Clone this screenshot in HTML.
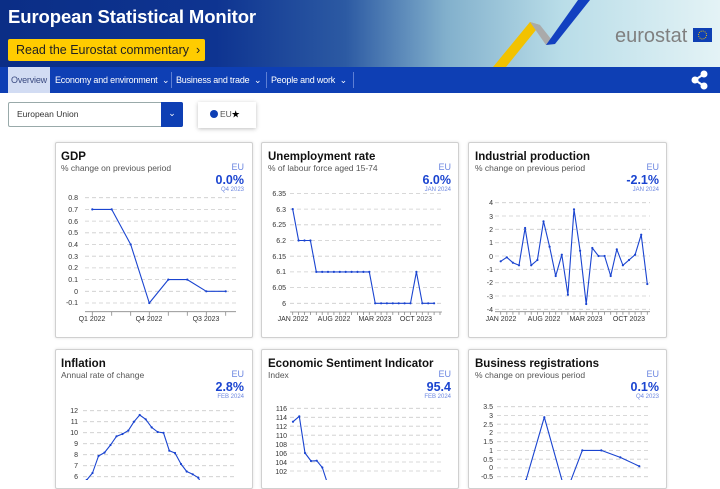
<!DOCTYPE html>
<html><head><meta charset="utf-8"><style>
body{margin:0;width:720px;height:480px;overflow:hidden;background:#fff;font-family:"Liberation Sans",Arial,sans-serif;position:relative}
.hdr{position:absolute;left:0;top:0;width:720px;height:67px;background:linear-gradient(90deg,#0b2e86 0%,#0e3491 30%,#2c5aa3 48%,#82b0cc 62%,#b9dde8 78%,#e4f3f6 100%)}
.title{position:absolute;left:8px;top:6px;color:#fff;font-size:18.5px;font-weight:bold;letter-spacing:-0.1px}
.btn{position:absolute;left:8px;top:39px;width:197px;height:22px;background:#ffcc00;border-radius:2px;font-size:12.5px;line-height:22px;color:#222;padding-left:8px;box-sizing:border-box}
.nav{position:absolute;left:0;top:67px;width:720px;height:26px;background:#0e3fb4}
.nav span{position:absolute;top:0;line-height:26px;font-size:9px;color:#fff;letter-spacing:-0.2px}
.sep{position:absolute;top:5px;width:1px;height:16px;background:#5d7fd4}
.ov{position:absolute;left:8px;top:0;width:42px;height:26px;background:#d2dcf3;color:#3a4a80!important;text-align:center}
.dd{position:absolute;left:8px;top:102px;width:175px;height:25px;border:1px solid #9aa;box-sizing:border-box;border-radius:2px;font-size:8.5px;color:#333;line-height:23px;padding-left:8px}
.ddb{position:absolute;right:-1px;top:-1px;width:22px;height:25px;background:#0e3fb4;border-radius:0 2px 2px 0;color:#fff;text-align:center;line-height:23px;font-size:9px}
.chip{position:absolute;left:198px;top:102px;width:58px;height:26px;background:#fff;box-shadow:0 1px 4px rgba(0,0,0,.25);font-size:8.5px;color:#555;line-height:25px}
.card{position:absolute;background:#fff;border:1px solid #d0d0d0;box-shadow:0 0 3px rgba(0,0,0,.12);border-radius:2px;box-sizing:border-box}
svg text{font-family:"Liberation Sans",Arial,sans-serif}
</style></head><body>
<div class="hdr">
<svg width="720" height="67" style="position:absolute;left:0;top:0">
<polygon points="493,67 506,67 540,25 530,22" fill="#f2c200"/>
<polygon points="530,22 540,25 555,44 546,45" fill="#aaa"/>
<polygon points="546,45 555,44 590,0 578,0" fill="#1240c0"/>
<text x="615" y="42" font-size="20" fill="#808080">eurostat</text>
<rect x="693" y="28" width="19" height="14" fill="#0e3fb4"/>
<circle cx="702.5" cy="35" r="4" fill="none" stroke="#f2c200" stroke-width="1" stroke-dasharray="1 1.1"/>
</svg>
<div class="title">European Statistical Monitor</div>
<div class="btn">Read the Eurostat commentary &nbsp;›</div>
</div>
<div class="nav">
<span class="ov">Overview</span>
<span style="left:55px">Economy and environment &nbsp;⌄</span>
<div class="sep" style="left:171px"></div>
<span style="left:176px">Business and trade &nbsp;⌄</span>
<div class="sep" style="left:266px"></div>
<span style="left:271px">People and work &nbsp;⌄</span>
<div class="sep" style="left:353px"></div>
<svg width="20" height="20" style="position:absolute;left:690px;top:3px"><g fill="#fff" stroke="#fff" stroke-width="2"><line x1="14" y1="4" x2="5" y2="10"/><line x1="5" y1="10" x2="14" y2="16"/><circle cx="14" cy="4" r="2.5"/><circle cx="5" cy="10" r="2.5"/><circle cx="14" cy="16" r="2.5"/></g></svg>
</div>
<div class="dd">European Union<div class="ddb">⌄</div></div>
<div class="chip"><span style="display:inline-block;width:8px;height:8px;border-radius:50%;background:#0e3fb4;margin:0 2px 0 12px;vertical-align:-1px"></span>EU<b style="color:#000">★</b></div>

<div class="card" style="left:55px;top:142px;width:198px;height:196px"></div>
<div class="card" style="left:261px;top:142px;width:198px;height:196px"></div>
<div class="card" style="left:468px;top:142px;width:199px;height:196px"></div>
<div class="card" style="left:55px;top:349px;width:198px;height:140px"></div>
<div class="card" style="left:261px;top:349px;width:198px;height:140px"></div>
<div class="card" style="left:468px;top:349px;width:199px;height:140px"></div>

<svg width="720" height="480" style="position:absolute;left:0;top:0">
<g font-size="11.5" font-weight="bold" fill="#111">
<text x="61" y="160">GDP</text><text x="268" y="160">Unemployment rate</text><text x="475" y="160">Industrial production</text>
<text x="61" y="367">Inflation</text><text x="268" y="367">Economic Sentiment Indicator</text><text x="475" y="367">Business registrations</text>
</g>
<g font-size="8.5" fill="#555">
<text x="61" y="171">% change on previous period</text><text x="268" y="171">% of labour force aged 15-74</text><text x="475" y="171">% change on previous period</text>
<text x="61" y="378">Annual rate of change</text><text x="268" y="378">Index</text><text x="475" y="378">% change on previous period</text>
</g>
<g text-anchor="end">
<g font-size="9" fill="#6b86e0"><text x="244" y="170">EU</text><text x="451" y="170">EU</text><text x="659" y="170">EU</text><text x="244" y="377">EU</text><text x="451" y="377">EU</text><text x="659" y="377">EU</text></g>
<g font-size="12.5" font-weight="bold" fill="#1a44d0"><text x="244" y="184">0.0%</text><text x="451" y="184">6.0%</text><text x="659" y="184">-2.1%</text><text x="244" y="391">2.8%</text><text x="451" y="391">95.4</text><text x="659" y="391">0.1%</text></g>
<g font-size="6" fill="#6b86e0"><text x="244" y="191">Q4 2023</text><text x="451" y="191">JAN 2024</text><text x="659" y="191">JAN 2024</text><text x="244" y="398">FEB 2024</text><text x="451" y="398">FEB 2024</text><text x="659" y="398">Q4 2023</text></g>
</g>

<g stroke="#ccc" stroke-width="0.8" stroke-dasharray="4 3">
<line x1="85" x2="236" y1="197.7" y2="197.7"/><line x1="85" x2="236" y1="209.4" y2="209.4"/><line x1="85" x2="236" y1="221.1" y2="221.1"/><line x1="85" x2="236" y1="232.8" y2="232.8"/><line x1="85" x2="236" y1="244.5" y2="244.5"/><line x1="85" x2="236" y1="256.2" y2="256.2"/><line x1="85" x2="236" y1="267.9" y2="267.9"/><line x1="85" x2="236" y1="279.6" y2="279.6"/><line x1="85" x2="236" y1="291.3" y2="291.3"/><line x1="85" x2="236" y1="303" y2="303"/>
<line x1="290" x2="442" y1="193.4" y2="193.4"/><line x1="290" x2="442" y1="209.1" y2="209.1"/><line x1="290" x2="442" y1="224.8" y2="224.8"/><line x1="290" x2="442" y1="240.5" y2="240.5"/><line x1="290" x2="442" y1="256.2" y2="256.2"/><line x1="290" x2="442" y1="271.9" y2="271.9"/><line x1="290" x2="442" y1="287.6" y2="287.6"/><line x1="290" x2="442" y1="303.3" y2="303.3"/>
<line x1="495" x2="650" y1="202.7" y2="202.7"/><line x1="495" x2="650" y1="216" y2="216"/><line x1="495" x2="650" y1="229.3" y2="229.3"/><line x1="495" x2="650" y1="242.7" y2="242.7"/><line x1="495" x2="650" y1="256" y2="256"/><line x1="495" x2="650" y1="269.3" y2="269.3"/><line x1="495" x2="650" y1="282.7" y2="282.7"/><line x1="495" x2="650" y1="296" y2="296"/><line x1="495" x2="650" y1="309.3" y2="309.3"/>
<line x1="83" x2="236" y1="410.7" y2="410.7"/><line x1="83" x2="236" y1="421.7" y2="421.7"/><line x1="83" x2="236" y1="432.7" y2="432.7"/><line x1="83" x2="236" y1="443.7" y2="443.7"/><line x1="83" x2="236" y1="454.7" y2="454.7"/><line x1="83" x2="236" y1="465.7" y2="465.7"/><line x1="83" x2="236" y1="476.7" y2="476.7"/>
<line x1="290" x2="442" y1="408.3" y2="408.3"/><line x1="290" x2="442" y1="417.3" y2="417.3"/><line x1="290" x2="442" y1="426.2" y2="426.2"/><line x1="290" x2="442" y1="435.2" y2="435.2"/><line x1="290" x2="442" y1="444.1" y2="444.1"/><line x1="290" x2="442" y1="453.1" y2="453.1"/><line x1="290" x2="442" y1="462" y2="462"/><line x1="290" x2="442" y1="471" y2="471"/>
<line x1="497" x2="650" y1="406.7" y2="406.7"/><line x1="497" x2="650" y1="415.4" y2="415.4"/><line x1="497" x2="650" y1="424.2" y2="424.2"/><line x1="497" x2="650" y1="432.9" y2="432.9"/><line x1="497" x2="650" y1="441.7" y2="441.7"/><line x1="497" x2="650" y1="450.4" y2="450.4"/><line x1="497" x2="650" y1="459.2" y2="459.2"/><line x1="497" x2="650" y1="467.9" y2="467.9"/><line x1="497" x2="650" y1="476.7" y2="476.7"/>
</g>

<g font-size="7" fill="#333" text-anchor="end">
<text x="78" y="200">0.8</text><text x="78" y="212">0.7</text><text x="78" y="224">0.6</text><text x="78" y="235">0.5</text><text x="78" y="247">0.4</text><text x="78" y="259">0.3</text><text x="78" y="270">0.2</text><text x="78" y="282">0.1</text><text x="78" y="294">0</text><text x="78" y="305">-0.1</text>
<text x="286" y="196">6.35</text><text x="286" y="212">6.3</text><text x="286" y="227">6.25</text><text x="286" y="243">6.2</text><text x="286" y="259">6.15</text><text x="286" y="274">6.1</text><text x="286" y="290">6.05</text><text x="286" y="306">6</text>
<text x="493" y="205">4</text><text x="493" y="219">3</text><text x="493" y="232">2</text><text x="493" y="245">1</text><text x="493" y="259">0</text><text x="493" y="272">-1</text><text x="493" y="285">-2</text><text x="493" y="299">-3</text><text x="493" y="312">-4</text>
<text x="78" y="413">12</text><text x="78" y="424">11</text><text x="78" y="435">10</text><text x="78" y="446">9</text><text x="78" y="457">8</text><text x="78" y="468">7</text><text x="78" y="479">6</text>
<text x="287" y="411">116</text><text x="287" y="420">114</text><text x="287" y="429">112</text><text x="287" y="438">110</text><text x="287" y="447">108</text><text x="287" y="456">106</text><text x="287" y="465">104</text><text x="287" y="474">102</text>
<text x="493" y="409">3.5</text><text x="493" y="418">3</text><text x="493" y="427">2.5</text><text x="493" y="435">2</text><text x="493" y="444">1.5</text><text x="493" y="453">1</text><text x="493" y="462">0.5</text><text x="493" y="470">0</text><text x="493" y="479">-0.5</text>
</g>

<g stroke="#888" stroke-width="0.8">
<line x1="85" x2="236" y1="311.7" y2="311.7"/>
<line x1="290" x2="442" y1="312" y2="312"/>
<line x1="495" x2="650" y1="311.7" y2="311.7"/>
<path d="M92.3 311.7v4M111.7 311.7v4M130.7 311.7v4M149.3 311.7v4M168.3 311.7v4M187.3 311.7v4M206.3 311.7v4M225.7 311.7v4"/>
<path d="M292.7 312v3M298.6 312v3M304.5 312v3M310.4 312v3M316.3 312v3M322.2 312v3M328 312v3M333.9 312v3M339.8 312v3M345.7 312v3M351.6 312v3M357.5 312v3M363.4 312v3M369.3 312v3M375.2 312v3M381.1 312v3M386.9 312v3M392.8 312v3M398.7 312v3M404.6 312v3M410.5 312v3M416.4 312v3M422.3 312v3M428.2 312v3M434.1 312v3M440 312v3"/>
<path d="M500.7 311.7v3M506.8 311.7v3M512.9 311.7v3M519 311.7v3M525.1 311.7v3M531.2 311.7v3M537.4 311.7v3M543.5 311.7v3M549.6 311.7v3M555.7 311.7v3M561.8 311.7v3M567.9 311.7v3M574 311.7v3M580.1 311.7v3M586.2 311.7v3M592.3 311.7v3M598.5 311.7v3M604.6 311.7v3M610.7 311.7v3M616.8 311.7v3M622.9 311.7v3M629 311.7v3M635.1 311.7v3M641.2 311.7v3M647.3 311.7v3"/>
</g>
<g font-size="7" fill="#333" text-anchor="middle">
<text x="92" y="321">Q1 2022</text><text x="149" y="321">Q4 2022</text><text x="206" y="321">Q3 2023</text>
<text x="293" y="321">JAN 2022</text><text x="334" y="321">AUG 2022</text><text x="375" y="321">MAR 2023</text><text x="416" y="321">OCT 2023</text>
<text x="501" y="321">JAN 2022</text><text x="544" y="321">AUG 2022</text><text x="586" y="321">MAR 2023</text><text x="629" y="321">OCT 2023</text>
</g>

<g fill="none" stroke="#1a44d0" stroke-width="1.1" stroke-linejoin="round" marker-mid="url(#d)" marker-start="url(#d)" marker-end="url(#d)">
<defs><marker id="d" markerWidth="3" markerHeight="3" refX="1.5" refY="1.5" markerUnits="userSpaceOnUse"><circle cx="1.5" cy="1.5" r="1.1" fill="#1a44d0" stroke="none"/></marker></defs>
<polyline points="92.3,209.4 111.7,209.4 130.7,244.5 149.3,303 168.3,279.6 187.3,279.6 206.3,291.3 225.7,291.3"/>
<polyline points="292.7,209.1 298.6,240.5 304.5,240.5 310.4,240.5 316.3,271.9 322.2,271.9 328,271.9 333.9,271.9 339.8,271.9 345.7,271.9 351.6,271.9 357.5,271.9 363.4,271.9 369.3,271.9 375.2,303.3 381.1,303.3 386.9,303.3 392.8,303.3 398.7,303.3 404.6,303.3 410.5,303.3 416.4,271.9 422.3,303.3 428.2,303.3 434.1,303.3"/>
<polyline points="500.7,261.3 506.8,257.3 512.9,262.7 519,265.3 525.1,228 531.2,265.3 537.4,260 543.5,221.3 549.6,246.7 555.7,276 561.8,254.7 567.9,294.7 574,209.3 580.1,250.7 586.2,304 592.3,248 598.5,256 604.6,256 610.7,276 616.8,249.3 622.9,265.3 629,260 635.1,254.7 641.2,234.7 647.3,284"/>
<polyline points="83,485 86.7,480 92.5,473 98.5,456 104.5,452.6 110.5,445 116.5,436.3 122.5,434 128.3,430.6 134,421.7 139.7,415 145.7,419.3 151.7,427.4 157.7,432 163.5,432.8 169.3,450.7 175,453 181,464 186.7,471.5 192.7,474.3 198.3,477.7 202,485"/>
<polyline points="293,421.7 299.3,416.3 305,453 311,461 316.7,460.7 322.3,467.5 328,485"/>
<polyline points="522,490 526,480.2 544.3,417.2 563.3,485 568,488 582.3,450.4 601.3,450.4 620.3,457.4 639.3,466.2"/>
</g>
</svg>
</body></html>
